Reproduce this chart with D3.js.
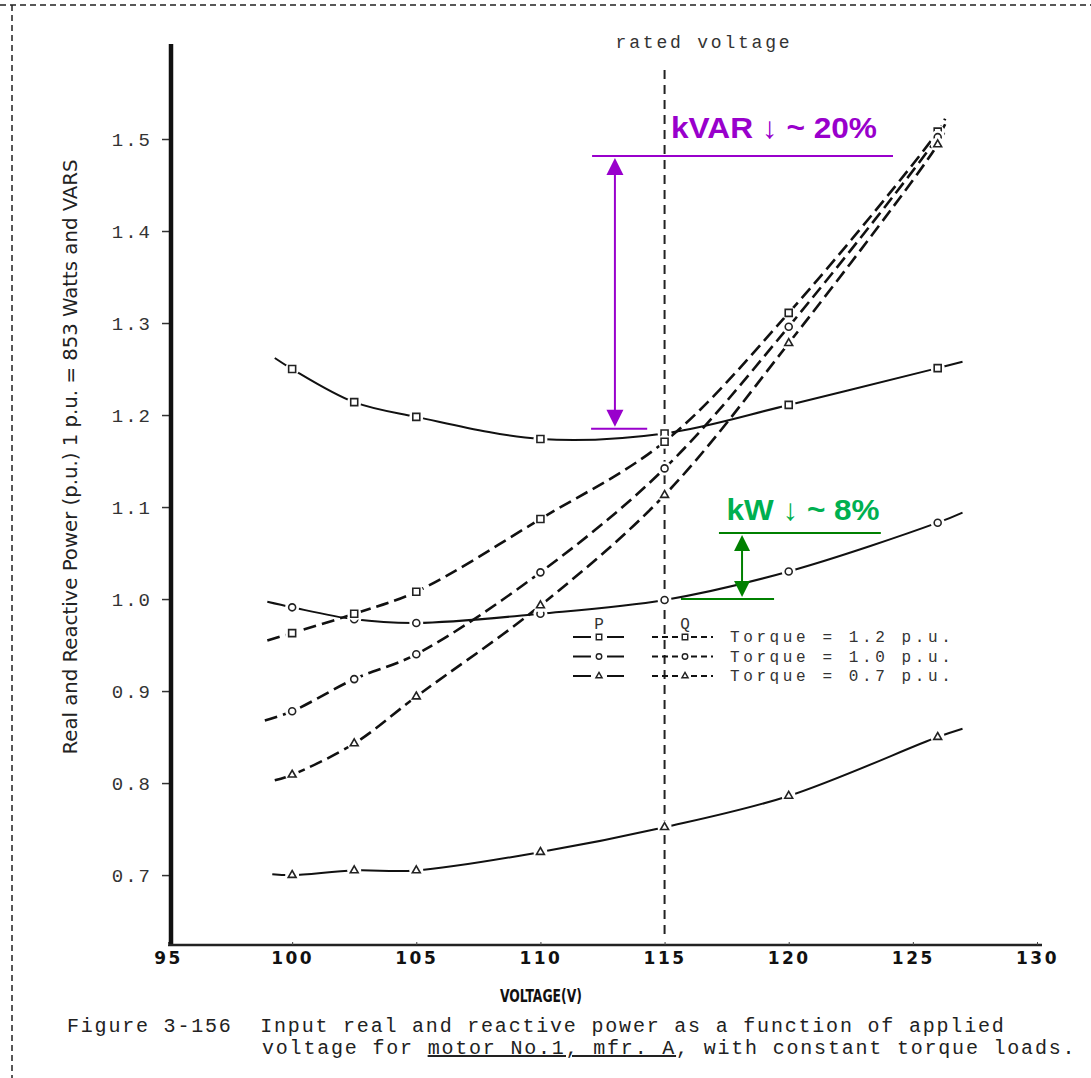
<!DOCTYPE html>
<html>
<head>
<meta charset="utf-8">
<script src="https://cdn.jsdelivr.net/npm/d3@7"></script>
<style>
  html, body { margin: 0; padding: 0; background: #fff; }
  svg { display: block; }
  .mono { font-family: "Liberation Mono", "DejaVu Sans Mono", monospace; white-space: pre; }
</style>
</head>
<body>
<svg id="chart" width="1091" height="1078"></svg>
<script>
// ---------- DATA ----------
const xTicks = [95, 100, 105, 110, 115, 120, 125, 130];
const yTicks = [0.7, 0.8, 0.9, 1.0, 1.1, 1.2, 1.3, 1.4, 1.5];
const markerVolts = [100, 102.5, 105, 110, 115, 120, 126];

// Real power P (solid)
const pT12 = [1.250, 1.214, 1.198, 1.174, 1.180, 1.211, 1.251];
const pT10 = [0.991, 0.978, 0.974, 0.984, 0.999, 1.030, 1.083];
const pT07 = [0.700, 0.705, 0.705, 0.725, 0.752, 0.786, 0.850];
// Reactive power Q (dashed)
const qT12 = [0.963, 0.984, 1.008, 1.087, 1.171, 1.311, 1.508];
const qT10 = [0.878, 0.913, 0.940, 1.029, 1.142, 1.296, 1.502];
const qT07 = [0.809, 0.843, 0.894, 0.993, 1.113, 1.278, 1.494];

// curve ends (no markers): [volts, value]
const pStart = [[99.3, 1.262], [99.0, 0.997], [99.2, 0.701]];
const pEnd   = [[127.0, 1.258], [127.0, 1.094], [127.0, 0.859]];
const qStart = [[99.0, 0.955], [98.9, 0.868], [99.3, 0.803]];
const qEnd   = [[126.3, 1.522], [126.3, 1.516], [126.3, 1.510]];

const torqueLabels = ["Torque = 1.2 p.u.", "Torque = 1.0 p.u.", "Torque = 0.7 p.u."];
const markerShapes = ["square", "circle", "triangle"];

const ratedVoltage = 115;
// annotations (data coords)
const kvarTop = 1.4815, kvarBottom = 1.185;
const kvarTopSpan = [112.08, 124.2], kvarBottomSpan = [112.04, 114.3], kvarArrowV = 113.0;
const kwTop = 1.0717, kwBottom = 1.0;
const kwTopSpan = [117.19, 123.71], kwBottomSpan = [115.66, 119.41], kwArrowV = 118.12;

// ---------- SCALES ----------
const svg = d3.select("#chart");
const x = d3.scaleLinear().domain([95, 130]).range([168, 1037]);
const y = d3.scaleLinear().domain([0.624, 1.6]).range([945, 47]);

// outer dashed frame
svg.append("line").attr("x1", 0).attr("x2", 1091).attr("y1", 5).attr("y2", 5)
  .attr("stroke", "#222").attr("stroke-width", 1.5).attr("stroke-dasharray", "6,4");
svg.append("line").attr("x1", 12).attr("x2", 12).attr("y1", 5).attr("y2", 1078)
  .attr("stroke", "#222").attr("stroke-width", 1.5).attr("stroke-dasharray", "6,4");

// ---------- AXES ----------
const yAxis = svg.append("g").attr("transform", `translate(${x(95) + 3},0)`)
  .call(d3.axisLeft(y).tickValues(yTicks).tickSize(9).tickPadding(10).tickFormat(d3.format(".1f")));
yAxis.select(".domain").remove();
yAxis.selectAll(".tick line").attr("stroke", "#333").attr("stroke-width", 1.5);
yAxis.selectAll(".tick text").attr("class", "mono").attr("font-size", 19)
  .attr("letter-spacing", 2).attr("fill", "#333");
svg.append("line").attr("x1", x(95) + 3).attr("x2", x(95) + 3).attr("y1", 44).attr("y2", 946)
  .attr("stroke", "#111").attr("stroke-width", 4.5);

const xAxis = svg.append("g").attr("transform", `translate(0,${y(0.624)})`)
  .call(d3.axisBottom(x).tickValues(xTicks).tickSize(3).tickPadding(4));
xAxis.select(".domain").attr("stroke", "#222").attr("stroke-width", 2.5)
  .attr("d", `M${x(95)},0H${x(130) + 5}`);
xAxis.selectAll(".tick line").attr("stroke", "#444").attr("y1", -3).attr("y2", 0);
xAxis.selectAll(".tick text").attr("font-family", "DejaVu Sans, sans-serif")
  .attr("font-weight", "bold").attr("font-size", 17).attr("letter-spacing", 2.5).attr("fill", "#111");

svg.append("text").attr("x", 541).attr("y", 1002).attr("text-anchor", "middle")
  .attr("font-family", "Liberation Sans Narrow, DejaVu Sans Condensed, sans-serif")
  .attr("font-stretch", "condensed").attr("font-weight", "bold").attr("font-size", 17)
  .attr("textLength", 82).attr("lengthAdjust", "spacingAndGlyphs").attr("fill", "#111")
  .text("VOLTAGE(V)");

svg.append("text").attr("transform", "translate(77,457) rotate(-90)").attr("text-anchor", "middle")
  .attr("font-family", "Liberation Sans Narrow, DejaVu Sans Condensed, sans-serif")
  .attr("font-stretch", "condensed").attr("font-size", 20).attr("fill", "#222")
  .attr("textLength", 595).attr("lengthAdjust", "spacingAndGlyphs")
  .text("Real and Reactive Power (p.u.) 1 p.u. = 853 Watts and VARS");

// rated voltage line
svg.append("line").attr("x1", x(ratedVoltage)).attr("x2", x(ratedVoltage))
  .attr("y1", 70).attr("y2", 936).attr("stroke", "#222").attr("stroke-width", 2)
  .attr("stroke-dasharray", "9,6");
svg.append("text").attr("class", "mono").attr("x", 704).attr("y", 48).attr("text-anchor", "middle")
  .attr("font-size", 18).attr("letter-spacing", 2.8).attr("fill", "#333").text("rated voltage");

// ---------- CURVES ----------
const line = d3.line().x(d => x(d[0])).y(d => y(d[1])).curve(d3.curveCatmullRom.alpha(0.5));
const pSets = [pT12, pT10, pT07];
const qSets = [qT12, qT10, qT07];

function markerPath(shape, size) {
  if (shape === "square") return d3.symbol(d3.symbolSquare, size * size)();
  if (shape === "circle") return d3.symbol(d3.symbolCircle, Math.PI * (size / 2) * (size / 2))();
  return d3.symbol(d3.symbolTriangle, size * size * 0.55)();
}

const curveG = svg.append("g");
const markG = svg.append("g");
function drawSeries(vals, start, end, shape, dashed) {
  const pts = [start].concat(markerVolts.map((v, i) => [v, vals[i]])).concat([end]);
  curveG.append("path").attr("d", line(pts)).attr("fill", "none").attr("stroke", "#111")
    .attr("stroke-width", dashed ? 2.6 : 2).attr("stroke-dasharray", dashed ? "13,6" : null);
  markerVolts.forEach((v, i) => {
    const g = markG.append("g").attr("transform", `translate(${x(v)},${y(vals[i])})`);
    g.append("circle").attr("r", 7).attr("fill", "#fff");
    g.append("path").attr("d", markerPath(shape, 7)).attr("fill", "#fff")
      .attr("stroke", "#222").attr("stroke-width", 1.6);
  });
}
pSets.forEach((vals, i) => drawSeries(vals, pStart[i], pEnd[i], markerShapes[i], false));
qSets.forEach((vals, i) => drawSeries(vals, qStart[i], qEnd[i], markerShapes[i], true));

// ---------- LEGEND ----------
const lg = svg.append("g");
lg.append("text").attr("class", "mono").attr("x", 599).attr("y", 629).attr("text-anchor", "middle")
  .attr("font-size", 16).attr("fill", "#333").text("P");
lg.append("text").attr("class", "mono").attr("x", 685).attr("y", 629).attr("text-anchor", "middle")
  .attr("font-size", 16).attr("fill", "#333").text("Q");
torqueLabels.forEach((t, i) => {
  const cy = 637 + i * 19.5;
  lg.append("line").attr("x1", 573).attr("x2", 591).attr("y1", cy).attr("y2", cy).attr("stroke", "#111").attr("stroke-width", 2);
  lg.append("line").attr("x1", 607).attr("x2", 624).attr("y1", cy).attr("y2", cy).attr("stroke", "#111").attr("stroke-width", 2);
  lg.append("path").attr("transform", `translate(599,${cy})`).attr("d", markerPath(markerShapes[i], 5.5))
    .attr("fill", "#fff").attr("stroke", "#222").attr("stroke-width", 1.4);
  lg.append("line").attr("x1", 652).attr("x2", 679).attr("y1", cy).attr("y2", cy).attr("stroke", "#111")
    .attr("stroke-width", 2).attr("stroke-dasharray", "6,4");
  lg.append("line").attr("x1", 691).attr("x2", 713).attr("y1", cy).attr("y2", cy).attr("stroke", "#111")
    .attr("stroke-width", 2).attr("stroke-dasharray", "6,4");
  lg.append("path").attr("transform", `translate(685,${cy})`).attr("d", markerPath(markerShapes[i], 5.5))
    .attr("fill", "#fff").attr("stroke", "#222").attr("stroke-width", 1.4);
  lg.append("text").attr("class", "mono").attr("x", 730).attr("y", cy + 5).attr("font-size", 16)
    .attr("letter-spacing", 3.6).attr("fill", "#333").text(t);
});

// ---------- ANNOTATIONS ----------
function arrowHead(g, cx, tipY, dir, w, h, color) {
  const b = tipY + dir * h;
  g.append("path").attr("d", `M${cx},${tipY}L${cx - w / 2},${b}L${cx + w / 2},${b}Z`).attr("fill", color);
}
const purple = "#9900CC";
const ag = svg.append("g");
ag.append("line").attr("x1", x(kvarTopSpan[0])).attr("x2", x(kvarTopSpan[1]))
  .attr("y1", y(kvarTop)).attr("y2", y(kvarTop)).attr("stroke", purple).attr("stroke-width", 2);
ag.append("line").attr("x1", x(kvarBottomSpan[0])).attr("x2", x(kvarBottomSpan[1]))
  .attr("y1", y(kvarBottom)).attr("y2", y(kvarBottom)).attr("stroke", purple).attr("stroke-width", 2);
ag.append("line").attr("x1", x(kvarArrowV)).attr("x2", x(kvarArrowV))
  .attr("y1", y(kvarTop) + 10).attr("y2", y(kvarBottom) - 10).attr("stroke", purple).attr("stroke-width", 2);
arrowHead(ag, x(kvarArrowV), y(kvarTop) + 2, 1, 17, 17, purple);
arrowHead(ag, x(kvarArrowV), y(kvarBottom) - 2, -1, 17, 17, purple);
ag.append("text").attr("x", 774).attr("y", 138).attr("text-anchor", "middle")
  .attr("font-family", "Liberation Sans, Arial, sans-serif").attr("font-weight", "bold")
  .attr("font-size", 30).attr("fill", purple).attr("textLength", 206).attr("lengthAdjust", "spacingAndGlyphs")
  .text("kVAR ↓ ~ 20%");

const dgreen = "#008000", lgreen = "#00B050";
ag.append("line").attr("x1", x(kwTopSpan[0])).attr("x2", x(kwTopSpan[1]))
  .attr("y1", y(kwTop)).attr("y2", y(kwTop)).attr("stroke", dgreen).attr("stroke-width", 2);
ag.append("line").attr("x1", x(kwBottomSpan[0])).attr("x2", x(kwBottomSpan[1]))
  .attr("y1", y(kwBottom)).attr("y2", y(kwBottom)).attr("stroke", dgreen).attr("stroke-width", 2);
ag.append("line").attr("x1", x(kwArrowV)).attr("x2", x(kwArrowV))
  .attr("y1", y(kwTop) + 10).attr("y2", y(kwBottom) - 10).attr("stroke", dgreen).attr("stroke-width", 2);
arrowHead(ag, x(kwArrowV), y(kwTop) + 2, 1, 16, 16, dgreen);
arrowHead(ag, x(kwArrowV), y(kwBottom) - 2, -1, 16, 16, dgreen);
ag.append("text").attr("x", 803).attr("y", 520).attr("text-anchor", "middle")
  .attr("font-family", "Liberation Sans, Arial, sans-serif").attr("font-weight", "bold")
  .attr("font-size", 30).attr("fill", lgreen).attr("textLength", 153).attr("lengthAdjust", "spacingAndGlyphs")
  .text("kW ↓ ~ 8%");

// ---------- CAPTION ----------
svg.append("text").attr("class", "mono").attr("x", 67).attr("y", 1032).attr("font-size", 20)
  .attr("letter-spacing", 1.8).attr("fill", "#222")
  .text("Figure 3-156  Input real and reactive power as a function of applied");
const cap2 = svg.append("text").attr("class", "mono").attr("x", 262).attr("y", 1054).attr("font-size", 20)
  .attr("letter-spacing", 1.8).attr("fill", "#222");
cap2.append("tspan").text("voltage for ");
cap2.append("tspan").attr("text-decoration", "underline").text("motor No.1, mfr. A");
cap2.append("tspan").text(", with constant torque loads.");
</script>
</body>
</html>
